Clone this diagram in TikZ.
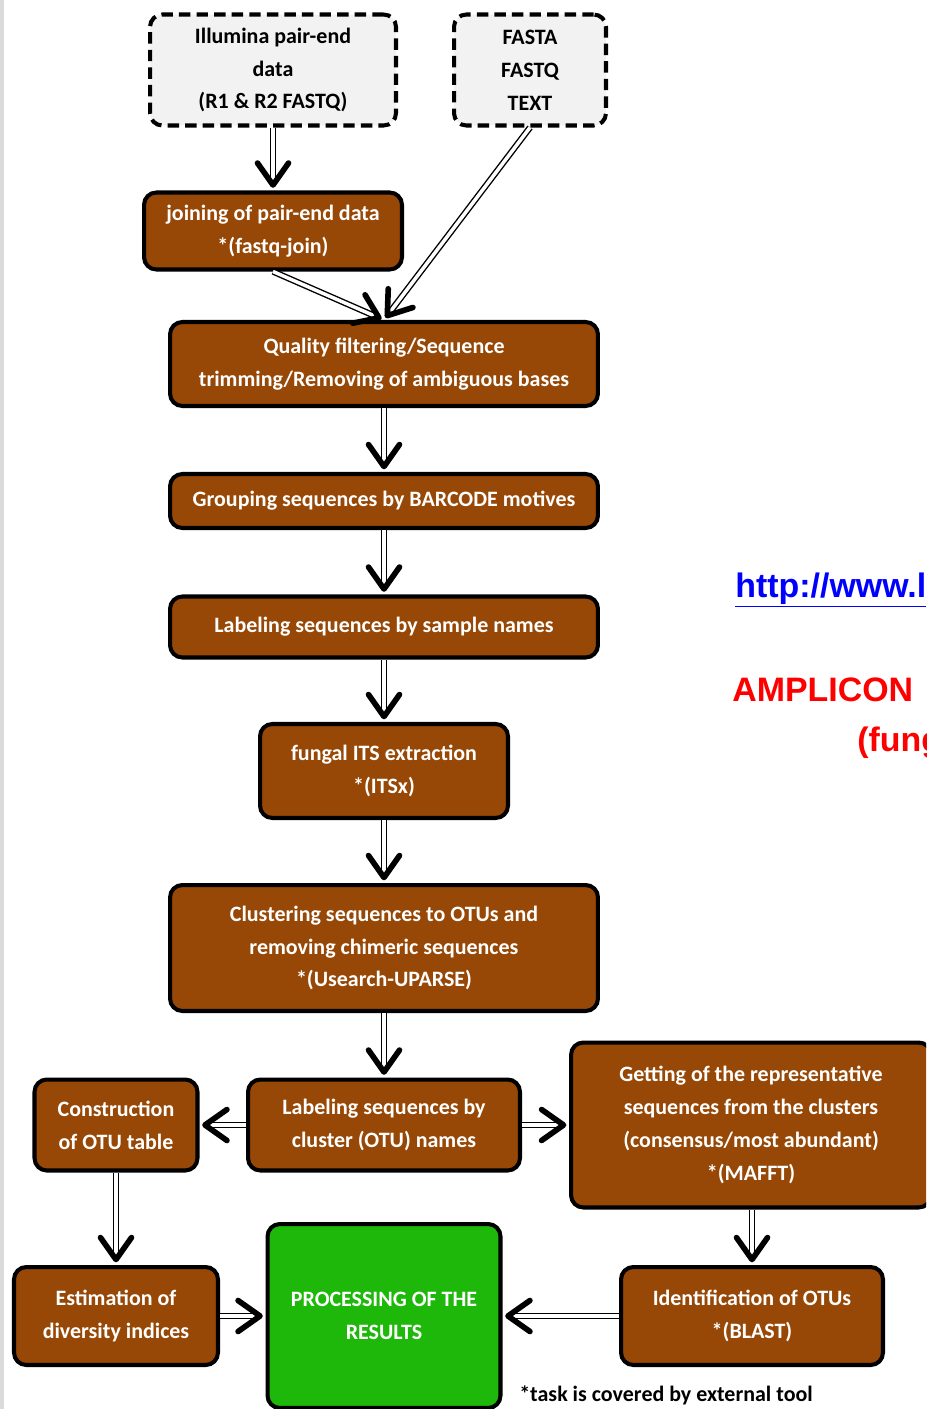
\documentclass[tikz,border=0pt]{standalone}
\usepackage{fontspec}
\setmainfont{Carlito}
\newfontfamily\arialfont{Liberation Sans}
\usetikzlibrary{arrows.meta}
\definecolor{boxbrown}{RGB}{151,72,6}
\definecolor{inputgray}{RGB}{242,242,242}
\definecolor{resultgreen}{RGB}{30,184,10}
\definecolor{linkblue}{RGB}{0,0,255}
\definecolor{titlered}{RGB}{255,0,0}

\begin{document}
\begin{tikzpicture}[
    x=0.02cm, y=-0.02cm,
    box/.style={
        draw=black,
        line width=2.3pt,
        rounded corners=7pt,
        fill=boxbrown,
        text=white,
        align=center,
        inner sep=0pt,
        font=\bfseries\fontsize{12.5}{18.7}\selectfont
    },
    inbox/.style={
        box,
        fill=inputgray,
        text=black,
        dash pattern=on 6.5pt off 3.5pt
    },
    arr/.style={
        double=white,
        double distance=2pt,
        line width=0.8pt,
        -{Straight Barb[length=4.4mm, width=6.2mm, line width=3.2pt, round]},
        shorten >=1.5pt
    }
]

\useasboundingbox (0,0) rectangle (926,1409);
\clip (0,0) rectangle (926,1409);
\fill[white] (0,0) rectangle (926,1409);
\fill[black!14] (0,0) rectangle (4,1409);

% ============================================================
% Input data
% ============================================================

\node[inbox, minimum width=4.92cm, minimum height=2.22cm] (illumina) at (273,70)
{Illumina pair-end\\data\\(R1 \& R2 FASTQ)};

\node[inbox, minimum width=3.04cm, minimum height=2.22cm] (formats) at (530,70)
{FASTA\\FASTQ\\TEXT};

\node[box, minimum width=5.16cm, minimum height=1.54cm] (joining) at (273,231)
{joining of pair-end data\\*(fastq-join)};


% ============================================================
% Main pipeline
% ============================================================

\node[box, minimum width=8.56cm, minimum height=1.68cm] (quality) at (384,364)
{Quality filtering/Sequence\\trimming/Removing of ambiguous bases};

\node[box, minimum width=8.56cm, minimum height=1.08cm] (grouping) at (384,501)
{Grouping sequences by BARCODE motives};

\node[box, minimum width=8.56cm, minimum height=1.22cm] (labsample) at (384,627)
{Labeling sequences by sample names};

\node[box, minimum width=4.96cm, minimum height=1.88cm] (its) at (384,771)
{fungal ITS extraction\\*(ITSx)};

\node[box, minimum width=8.56cm, minimum height=2.52cm] (clustering) at (384,948)
{Clustering sequences to OTUs and\\removing chimeric sequences\\*(Usearch-UPARSE)};

\node[box, minimum width=5.44cm, minimum height=1.82cm] (labcluster) at (384,1125)
{Labeling sequences by\\cluster (OTU) names};


% ============================================================
% Branches and results
% ============================================================

\node[box, minimum width=3.26cm, minimum height=1.82cm] (otutable) at (116,1125)
{Construction\\of OTU table};

\node[box, minimum width=7.2cm, minimum height=3.3cm] (represent) at (751,1125)
{Getting of the representative\\sequences from the clusters\\(consensus/most abundant)\\*(MAFFT)};

\node[box, minimum width=4.08cm, minimum height=1.96cm] (diversity) at (116,1316)
{Estimation of\\diversity indices};

\node[box, minimum width=5.24cm, minimum height=1.96cm] (identify) at (752,1316)
{Identification of OTUs\\*(BLAST)};

\node[box, fill=resultgreen, minimum width=4.66cm, minimum height=3.68cm] (results) at (384,1316)
{PROCESSING OF THE\\RESULTS};

\node[font=\bfseries\fontsize{12.5}{15}\selectfont, anchor=base] (note) at (666,1401)
{*task is covered by external tool};


% ============================================================
% Title text on the right
% ============================================================

\node[font=\arialfont\bfseries\fontsize{19.3}{23}\selectfont, text=linkblue, anchor=base west, inner sep=0pt] (link) at (735,597)
{\underline{http://www.l}};

\node[font=\arialfont\bfseries\fontsize{19.3}{23}\selectfont, text=titlered, anchor=base west, inner sep=0pt] (title) at (732,701)
{AMPLICON};

\node[font=\arialfont\bfseries\fontsize{19.3}{23}\selectfont, text=titlered, anchor=base west, inner sep=0pt] (subtitle) at (857,751)
{(fung};


% ============================================================
% Connectors
% ============================================================

\draw[arr] (illumina) -- (joining);
\draw[arr] (joining.south) -- (quality.north);
\draw[arr] (formats.south) -- (quality.north);
\draw[arr] (quality) -- (grouping);
\draw[arr] (grouping) -- (labsample);
\draw[arr] (labsample) -- (its);
\draw[arr] (its) -- (clustering);
\draw[arr] (clustering) -- (labcluster);
\draw[arr] (labcluster) -- (otutable);
\draw[arr] (labcluster) -- (represent);
\draw[arr] (otutable) -- (diversity);
\draw[arr] (represent.south -| identify) -- (identify);
\draw[arr] (diversity) -- (results);
\draw[arr] (identify) -- (results);

\end{tikzpicture}
\end{document}
